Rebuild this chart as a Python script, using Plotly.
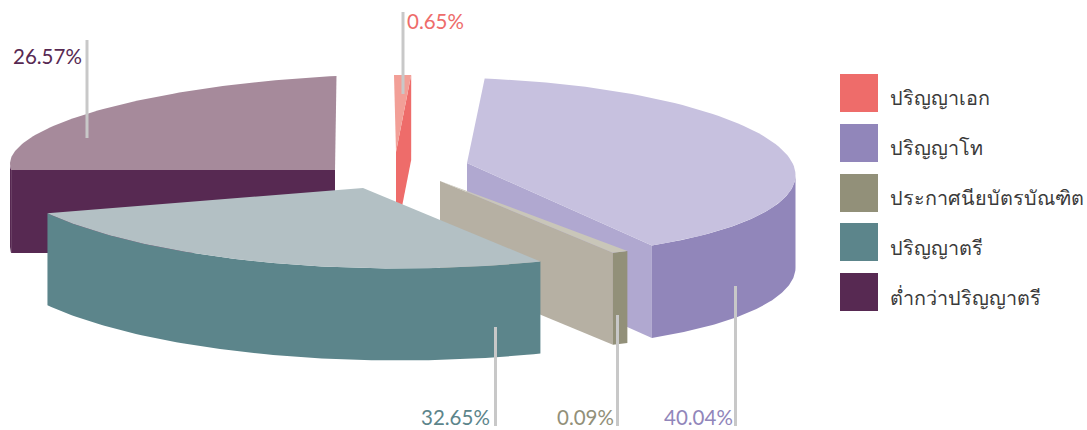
import numpy as np
import plotly.graph_objects as go

categories = ["ปริญญาเอก", "ปริญญาโท", "ประกาศนียบัตรบัณฑิต", "ปริญญาตรี", "ต่ำกว่าปริญญาตรี"]
values = [0.65, 40.04, 0.09, 32.65, 26.57]

side_colors = ["#EE6C6A", "#9186BA", "#929079", "#5C858B", "#572952"]
top_colors = ["#F29F97", "#C7C1DF", "#C9C6B9", "#B3C0C4", "#A68A9B"]
edge_colors = ["#EE6C6A", "#B0A8D0", "#B6B0A3", None, "#572952"]
edge_side = ["end", "end", "end", None, "start"]

MIN_ANGLE = 3.0
# exploded centre and projected ellipse of each slice, in pixels
apex_x = [396, 467, 440, 363, 335]
apex_y = [152, 163, 181, 188, 170]
off_x = [-2, 0.5, 3, 36.5, 1.5]
off_y = [6.5, 4.2, 12, -34.5, -22]
rad_x = [328, 328, 328, 412, 326.5]
rad_y = [83.5, 89.2, 70, 115, 72]
shear = [0, 8, 0, 0, -16]
depth = [85, 92.5, 92, 92, 83]
# arc of the projected ellipse that a slice occupies, when it differs from its angles
warp = [None, None, None, (160.0, 238.7), None]

leader_x = [403, 735.5, 617.5, 495.5, 87]
leader_y0 = [12, 426, 426, 426, 40]
leader_y1 = [94, 286, 315, 327, 138]
label_x = [405, 735, 616, 492, 84]
label_y = [21, 417, 417, 417, 56]
label_anchor = ["left", "right", "right", "right", "right"]

legend_x = 859
legend_y = [93, 143, 193, 242, 292]
legend_text_x = 887.5
legend_text_y = [97, 147, 197, 247, 297]

# slice angles from the values, tiny slices held at a minimum angle
small = [v * 3.6 < MIN_ANGLE for v in values]
rest = sum(v for v, s in zip(values, small) if not s)
free = 360 - MIN_ANGLE * sum(small)
spans = [MIN_ANGLE if s else v * free / rest for v, s in zip(values, small)]
ends = np.cumsum(spans)
starts = ends - np.array(spans)


def arc(i, a, b, n=80):
    t = np.linspace(a, b, n)
    if warp[i]:
        t = warp[i][0] + (t - starts[i]) * (warp[i][1] - warp[i][0]) / (ends[i] - starts[i])
    t = np.radians(t)
    x = apex_x[i] + off_x[i] + rad_x[i] * np.sin(t)
    y = apex_y[i] + off_y[i] - rad_y[i] * np.cos(t) + shear[i] * np.sin(t)
    return x, y


def poly(fig, x, y, color):
    fig.add_trace(go.Scatter(x=list(x), y=list(y), mode="lines", fill="toself", fillcolor=color,
                             line=dict(width=0, color=color), hoverinfo="skip", showlegend=False))


fig = go.Figure()
for i in [4, 0, 1, 2, 3]:
    a, b = starts[i], ends[i]
    d = depth[i]
    if edge_side[i]:
        e = a if edge_side[i] == "start" else b
        ex, ey = arc(i, e, e, 1)
        poly(fig, [apex_x[i], ex[0], ex[0], apex_x[i]],
             [apex_y[i], ey[0], ey[0] + d, apex_y[i] + d], edge_colors[i])
    lo, hi = max(a, 90), min(b, 270)
    if lo < hi:
        wx, wy = arc(i, lo, hi)
        poly(fig, np.r_[wx, wx[::-1]], np.r_[wy, (wy + d)[::-1]], side_colors[i])
    tx, ty = arc(i, a, b)
    poly(fig, np.r_[apex_x[i], tx], np.r_[apex_y[i], ty], top_colors[i])

annotations = []
for i, v in enumerate(values):
    fig.add_trace(go.Scatter(x=[leader_x[i], leader_x[i]], y=[leader_y0[i], leader_y1[i]], mode="lines",
                             line=dict(color="#C8C8C8", width=3), hoverinfo="skip", showlegend=False))
    annotations.append(dict(x=label_x[i], y=label_y[i], text=f"{v}%", showarrow=False, xref="x", yref="y",
                            xanchor=label_anchor[i], yanchor="middle",
                            font=dict(family="Lato, sans-serif", size=20.5, color=side_colors[i])))
    annotations.append(dict(x=legend_text_x, y=legend_text_y[i], text=categories[i], showarrow=False,
                            xref="x", yref="y", xanchor="left", yanchor="middle",
                            font=dict(family="Noto Sans, sans-serif", size=19.8, color="#3A3A3A")))

fig.add_trace(go.Scatter(x=[legend_x] * 5, y=legend_y, mode="markers",
                         marker=dict(symbol="square", size=38, color=side_colors, line=dict(width=0)),
                         hoverinfo="skip", showlegend=False))

fig.update_layout(width=1087, height=430, margin=dict(l=0, r=0, t=0, b=0), paper_bgcolor="white",
                  plot_bgcolor="white", showlegend=False, annotations=annotations,
                  xaxis=dict(range=[0, 1087], visible=False, fixedrange=True),
                  yaxis=dict(range=[430, 0], visible=False, fixedrange=True))
fig.write_html("out.html", config={"displayModeBar": False},
               post_script="document.body.style.margin='0';document.body.style.overflow='hidden';")
